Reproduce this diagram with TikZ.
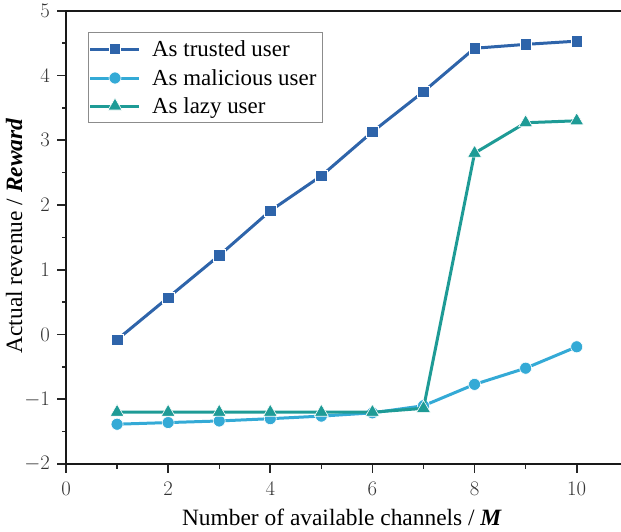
\documentclass[tikz,border=0pt]{standalone}
\usepackage{fontspec}
\setmainfont{Liberation Serif}
\usetikzlibrary{shapes.geometric}

\definecolor{trustcol}{RGB}{46,100,170}
\definecolor{malcol}{RGB}{52,170,214}
\definecolor{lazycol}{RGB}{30,155,150}

\tikzset{
  spine/.style={line width=2.2bp, black!90, line cap=rect},
  majtick/.style={line width=1.6bp, black!85},
  mintick/.style={line width=1.4bp, black!85},
  ticklbl/.style={font=\fontsize{20}{20}\selectfont, text=black!80, inner sep=0pt},
  axlbl/.style={font=\fontsize{23.5}{24}\selectfont, inner sep=0pt},
  series/.style={line width=3bp, line join=round},
  sqmark/.style={rectangle, fill=#1, draw=white, line width=0.6bp, minimum size=11.5bp, inner sep=0pt},
  circmark/.style={circle, fill=#1, draw=white, line width=0.6bp, minimum size=12bp, inner sep=0pt},
  trimark/.style={regular polygon, regular polygon sides=3, fill=#1, draw=white, line width=0.6bp, minimum size=16bp, inner sep=0pt},
  legtext/.style={font=\fontsize{23}{24}\selectfont, anchor=base west, inner sep=0pt},
}

\begin{document}
\begin{tikzpicture}
\useasboundingbox (0,0) rectangle (621bp,-532bp);

\begin{scope}[shift={(66bp,-334.5bp)}, x=51.07bp, y=64.76bp]
  % corner points of the plotting area
  \coordinate (bl) at (0,-2);
  \coordinate (br) at (10.87,-2);
  \coordinate (tl) at (0,5);
  \coordinate (tr) at (10.87,5);

  % y ticks and labels
  \foreach \v in {-2,...,5} {
    \draw[majtick] (0,\v) -- ++(-9bp,0);
    \node[ticklbl, anchor=east] (yl\v) at ([xshift=-16bp]0,\v) {$\v$};
  }
  \foreach \v in {-1.5,-0.5,0.5,1.5,2.5,3.5,4.5}
    \draw[mintick] (0,\v) -- ++(-4.5bp,0);

  % x ticks and labels
  \foreach \v in {0,2,...,10} {
    \draw[majtick] (\v,-2) -- ++(0,-8.5bp);
    \node[ticklbl] (xl\v) at ([yshift=-25bp]\v,-2) {$\v$};
  }
  \foreach \v in {1,3,...,9}
    \draw[mintick] (\v,-2) -- ++(0,-4.5bp);

  % spines
  \draw[spine] (tr) -- (tl) -- (bl) -- (br);

  % series: trusted
  \draw[series, trustcol] plot coordinates {(1,-0.08)(2,0.57)(3,1.22)(4,1.91)(5,2.45)(6,3.13)(7,3.75)(8,4.42)(9,4.48)(10,4.53)};
  \foreach \x/\y [count=\i] in {1/-0.08,2/0.57,3/1.22,4/1.91,5/2.45,6/3.13,7/3.75,8/4.42,9/4.48,10/4.53}
    \node[sqmark=trustcol] (t\i) at (\x,\y) {};

  % series: malicious
  \draw[series, malcol] plot coordinates {(1,-1.385)(2,-1.36)(3,-1.335)(4,-1.30)(5,-1.26)(6,-1.21)(7,-1.10)(8,-0.77)(9,-0.52)(10,-0.19)};
  \foreach \x/\y [count=\i] in {1/-1.385,2/-1.36,3/-1.335,4/-1.30,5/-1.26,6/-1.21,7/-1.10,8/-0.77,9/-0.52,10/-0.19}
    \node[circmark=malcol] (m\i) at (\x,\y) {};

  % series: lazy
  \draw[series, lazycol] plot coordinates {(1,-1.2)(2,-1.2)(3,-1.2)(4,-1.2)(5,-1.2)(6,-1.2)(7,-1.14)(8,2.80)(9,3.27)(10,3.30)};
  \foreach \x/\y [count=\i] in {1/-1.2,2/-1.2,3/-1.2,4/-1.2,5/-1.2,6/-1.2,7/-1.14,8/2.80,9/3.27,10/3.30}
    \node[trimark=lazycol] (l\i) at (\x,\y) {};
\end{scope}

% axis titles
\node[axlbl, anchor=base] (xtitle) at (342bp,-525bp) {Number of available channels / \textbf{\textit{M}}};
\node[axlbl, anchor=base, rotate=90] (ytitle) at (22bp,-236bp) {Actual revenue / \textbf{\textit{Reward}}};

% legend
\node[draw=black!45, line width=0.9bp, fill=white, minimum width=234bp, minimum height=90bp, anchor=north west, inner sep=0pt] (legbox) at (88bp,-32bp) {};
\foreach \r/\c/\m/\t [count=\i] in {49/trustcol/sqmark/As trusted user, 78/malcol/circmark/As malicious user, 106/lazycol/trimark/As lazy user} {
  \coordinate (la\i) at (90bp,-\r bp);
  \coordinate (lb\i) at (139bp,-\r bp);
  \draw[series, \c] (la\i) -- (lb\i);
  \node[\m=\c] (lm\i) at (115bp,-\r bp) {};
  \node[legtext] (lt\i) at (152bp,-\r bp-7bp) {\t};
}
\end{tikzpicture}
\end{document}
